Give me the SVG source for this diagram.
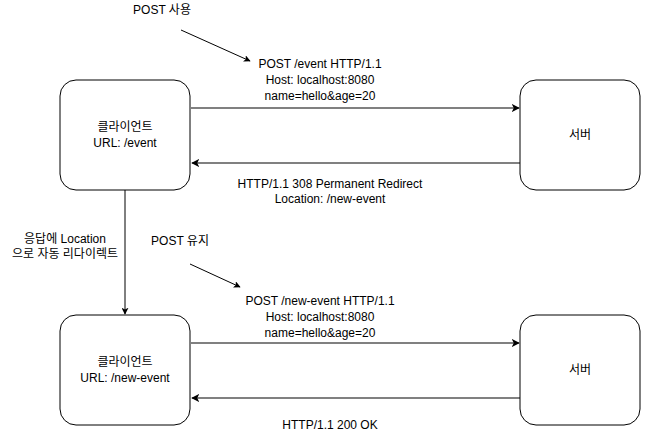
<svg xmlns="http://www.w3.org/2000/svg" width="651" height="436" viewBox="0 0 651 436">
<defs>
<marker id="ah" viewBox="0 0 10 10" refX="9" refY="5" markerWidth="7" markerHeight="7" markerUnits="userSpaceOnUse" orient="auto"><path d="M0,0 L10,5 L0,10 L2.5,5 Z" fill="#000"/></marker>
<marker id="ahg" viewBox="0 0 10 10" refX="9" refY="5" markerWidth="8" markerHeight="8" markerUnits="userSpaceOnUse" orient="auto"><path d="M0,0 L10,5 L0,10 L2.5,5 Z" fill="#000"/></marker>
</defs>
<style>
.box{fill:#fff;stroke:#000;stroke-width:1}
text{font-family:"Liberation Sans",Arial,"Noto Sans CJK KR",sans-serif;font-size:12px;fill:#000;text-anchor:middle}
.g{stroke:#808080;stroke-width:2;fill:none}
.k{stroke:#000;stroke-width:1;fill:none}
</style>
<rect width="651" height="436" fill="#fff"/>
<g id="connectors">
<line class="g" x1="191" y1="108" x2="519" y2="108" marker-end="url(#ahg)"/>
<line class="g" x1="520" y1="163" x2="192" y2="163" marker-end="url(#ahg)"/>
<line class="g" x1="191" y1="343" x2="519" y2="343" marker-end="url(#ahg)"/>
<line class="g" x1="520" y1="398" x2="192" y2="398" marker-end="url(#ahg)"/>
<line class="k" x1="125" y1="190" x2="125" y2="314" marker-end="url(#ah)"/>
<line class="k" x1="181" y1="30" x2="250" y2="61" marker-end="url(#ah)"/>
<line class="k" x1="190" y1="264" x2="240" y2="287" marker-end="url(#ah)"/>
</g>
<g id="client1"><rect class="box" x="60" y="80" width="130" height="110" rx="16"/><text x="125" y="131">클라이언트</text><text x="125" y="147">URL: /event</text></g>
<g id="server1"><rect class="box" x="520" y="80" width="120" height="110" rx="16"/><text x="580" y="139">서버</text></g>
<g id="client2"><rect class="box" x="60" y="315" width="130" height="110" rx="16"/><text x="125" y="366">클라이언트</text><text x="125" y="382">URL: /new-event</text></g>
<g id="server2"><rect class="box" x="520" y="315" width="120" height="110" rx="16"/><text x="580" y="374">서버</text></g>
<g id="labels">
<text x="162" y="14">POST 사용</text>
<text x="320" y="68">POST /event HTTP/1.1</text>
<text x="320" y="84">Host: localhost:8080</text>
<text x="320" y="100">name=hello&amp;age=20</text>
<text x="330" y="188">HTTP/1.1 308 Permanent Redirect</text>
<text x="330" y="203">Location: /new-event</text>
<text x="65" y="243">응답에 Location</text>
<text x="65" y="258">으로 자동 리다이렉트</text>
<text x="180" y="245">POST 유지</text>
<text x="320" y="305">POST /new-event HTTP/1.1</text>
<text x="320" y="321">Host: localhost:8080</text>
<text x="320" y="337">name=hello&amp;age=20</text>
<text x="330" y="429">HTTP/1.1 200 OK</text>
</g>
</svg>
